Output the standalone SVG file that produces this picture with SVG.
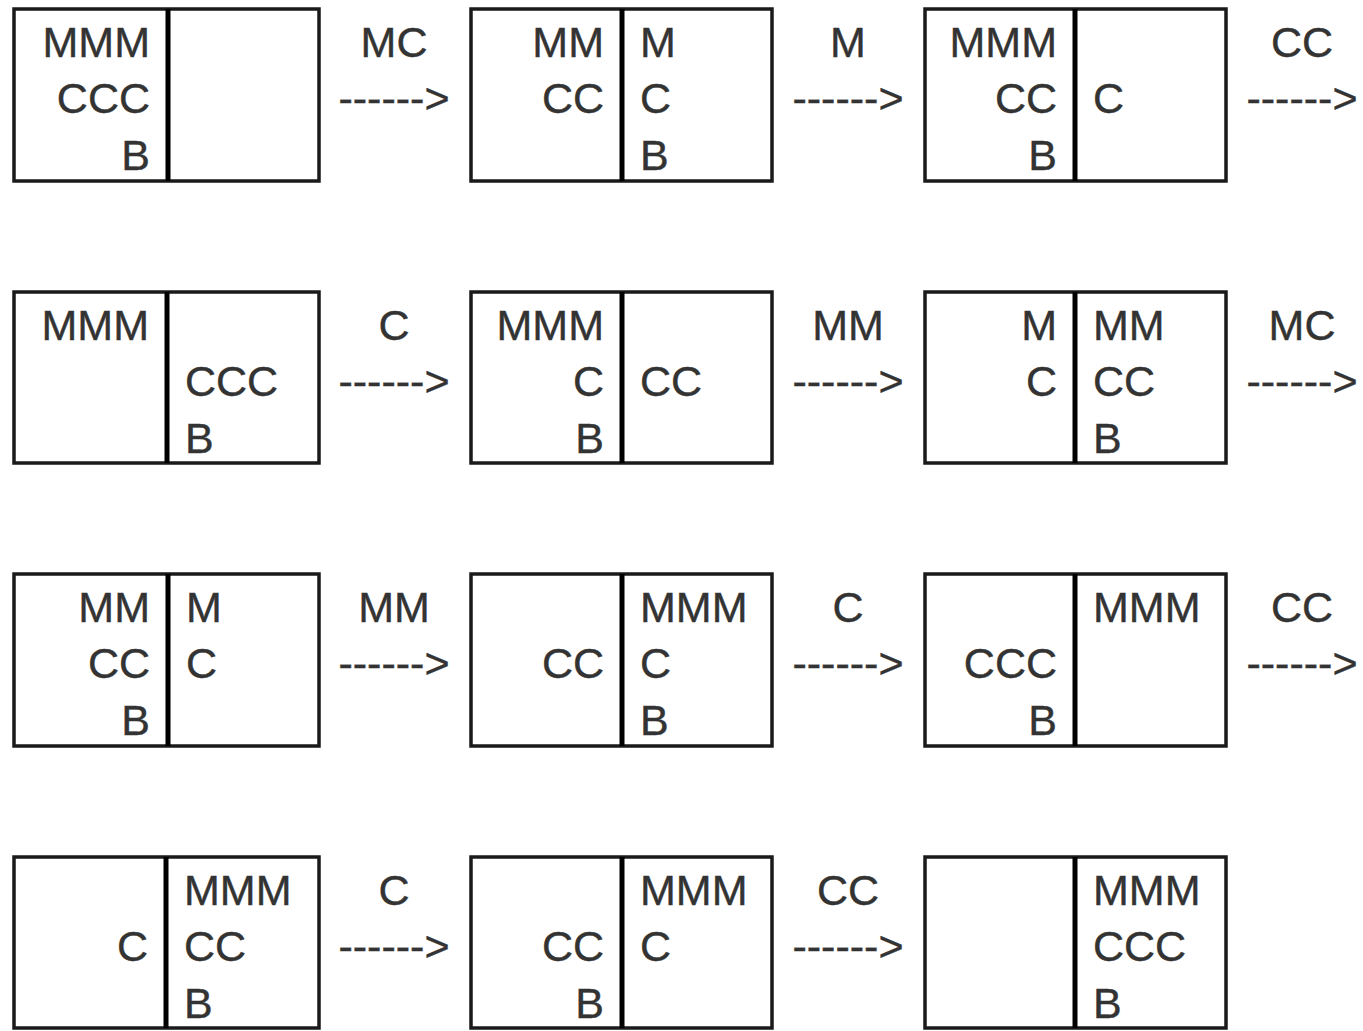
<svg xmlns="http://www.w3.org/2000/svg" width="1363" height="1031" viewBox="0 0 1363 1031">
<style>
.box{fill:#fff;stroke:#1a1a1a;stroke-width:3.5}
.div{stroke:#000;stroke-width:5}
text{font-family:"Liberation Sans",Arial,sans-serif;font-size:43px;fill:#333;stroke:#333;stroke-width:0.4}
.l{text-anchor:end}
.r{text-anchor:start}
.m{text-anchor:middle}
</style>
<rect width="1363" height="1031" fill="#fff"/>
<g id="row1">
<g id="s1" transform="translate(14,9)"><rect class="box" width="305" height="172"/><line class="div" x1="154" y1="0" x2="154" y2="172"/>
<text class="l" x="136" y="48">MMM</text><text class="l" x="136" y="104">CCC</text><text class="l" x="136" y="161">B</text></g>
<g id="s2" transform="translate(471,9)"><rect class="box" width="301" height="172"/><line class="div" x1="151" y1="0" x2="151" y2="172"/>
<text class="l" x="133" y="48">MM</text><text class="l" x="133" y="104">CC</text>
<text class="r" x="169" y="48">M</text><text class="r" x="169" y="104">C</text><text class="r" x="169" y="161">B</text></g>
<g id="s3" transform="translate(925,9)"><rect class="box" width="301" height="172"/><line class="div" x1="150" y1="0" x2="150" y2="172"/>
<text class="l" x="132" y="48">MMM</text><text class="l" x="132" y="104">CC</text><text class="l" x="132" y="161">B</text>
<text class="r" x="168" y="104">C</text></g>
</g>
<g id="row2">
<g id="s4" transform="translate(14,292)"><rect class="box" width="305" height="171"/><line class="div" x1="153" y1="0" x2="153" y2="171"/>
<text class="l" x="135" y="48">MMM</text>
<text class="r" x="171" y="104">CCC</text><text class="r" x="171" y="161">B</text></g>
<g id="s5" transform="translate(471,292)"><rect class="box" width="301" height="171"/><line class="div" x1="151" y1="0" x2="151" y2="171"/>
<text class="l" x="133" y="48">MMM</text><text class="l" x="133" y="104">C</text><text class="l" x="133" y="161">B</text>
<text class="r" x="169" y="104">CC</text></g>
<g id="s6" transform="translate(925,292)"><rect class="box" width="301" height="171"/><line class="div" x1="150" y1="0" x2="150" y2="171"/>
<text class="l" x="132" y="48">M</text><text class="l" x="132" y="104">C</text>
<text class="r" x="168" y="48">MM</text><text class="r" x="168" y="104">CC</text><text class="r" x="168" y="161">B</text></g>
</g>
<g id="row3">
<g id="s7" transform="translate(14,574)"><rect class="box" width="305" height="172"/><line class="div" x1="154" y1="0" x2="154" y2="172"/>
<text class="l" x="136" y="48">MM</text><text class="l" x="136" y="104">CC</text><text class="l" x="136" y="161">B</text>
<text class="r" x="172" y="48">M</text><text class="r" x="172" y="104">C</text></g>
<g id="s8" transform="translate(471,574)"><rect class="box" width="301" height="172"/><line class="div" x1="151" y1="0" x2="151" y2="172"/>
<text class="l" x="133" y="104">CC</text>
<text class="r" x="169" y="48">MMM</text><text class="r" x="169" y="104">C</text><text class="r" x="169" y="161">B</text></g>
<g id="s9" transform="translate(925,574)"><rect class="box" width="301" height="172"/><line class="div" x1="150" y1="0" x2="150" y2="172"/>
<text class="l" x="132" y="104">CCC</text><text class="l" x="132" y="161">B</text>
<text class="r" x="168" y="48">MMM</text></g>
</g>
<g id="row4">
<g id="s10" transform="translate(14,857)"><rect class="box" width="305" height="171"/><line class="div" x1="152" y1="0" x2="152" y2="171"/>
<text class="l" x="134" y="104">C</text>
<text class="r" x="170" y="48">MMM</text><text class="r" x="170" y="104">CC</text><text class="r" x="170" y="161">B</text></g>
<g id="s11" transform="translate(471,857)"><rect class="box" width="301" height="171"/><line class="div" x1="151" y1="0" x2="151" y2="171"/>
<text class="l" x="133" y="104">CC</text><text class="l" x="133" y="161">B</text>
<text class="r" x="169" y="48">MMM</text><text class="r" x="169" y="104">C</text></g>
<g id="s12" transform="translate(925,857)"><rect class="box" width="301" height="171"/><line class="div" x1="150" y1="0" x2="150" y2="171"/>
<text class="r" x="168" y="48">MMM</text><text class="r" x="168" y="104">CCC</text><text class="r" x="168" y="161">B</text></g>
</g>
<g id="connectors">
<text class="m" x="394" y="57">MC</text><text class="m" x="394" y="113">------&gt;</text>
<text class="m" x="848" y="57">M</text><text class="m" x="848" y="113">------&gt;</text>
<text class="m" x="1302" y="57">CC</text><text class="m" x="1302" y="113">------&gt;</text>
<text class="m" x="394" y="340">C</text><text class="m" x="394" y="396">------&gt;</text>
<text class="m" x="848" y="340">MM</text><text class="m" x="848" y="396">------&gt;</text>
<text class="m" x="1302" y="340">MC</text><text class="m" x="1302" y="396">------&gt;</text>
<text class="m" x="394" y="622">MM</text><text class="m" x="394" y="678">------&gt;</text>
<text class="m" x="848" y="622">C</text><text class="m" x="848" y="678">------&gt;</text>
<text class="m" x="1302" y="622">CC</text><text class="m" x="1302" y="678">------&gt;</text>
<text class="m" x="394" y="905">C</text><text class="m" x="394" y="961">------&gt;</text>
<text class="m" x="848" y="905">CC</text><text class="m" x="848" y="961">------&gt;</text>
</g>
</svg>
